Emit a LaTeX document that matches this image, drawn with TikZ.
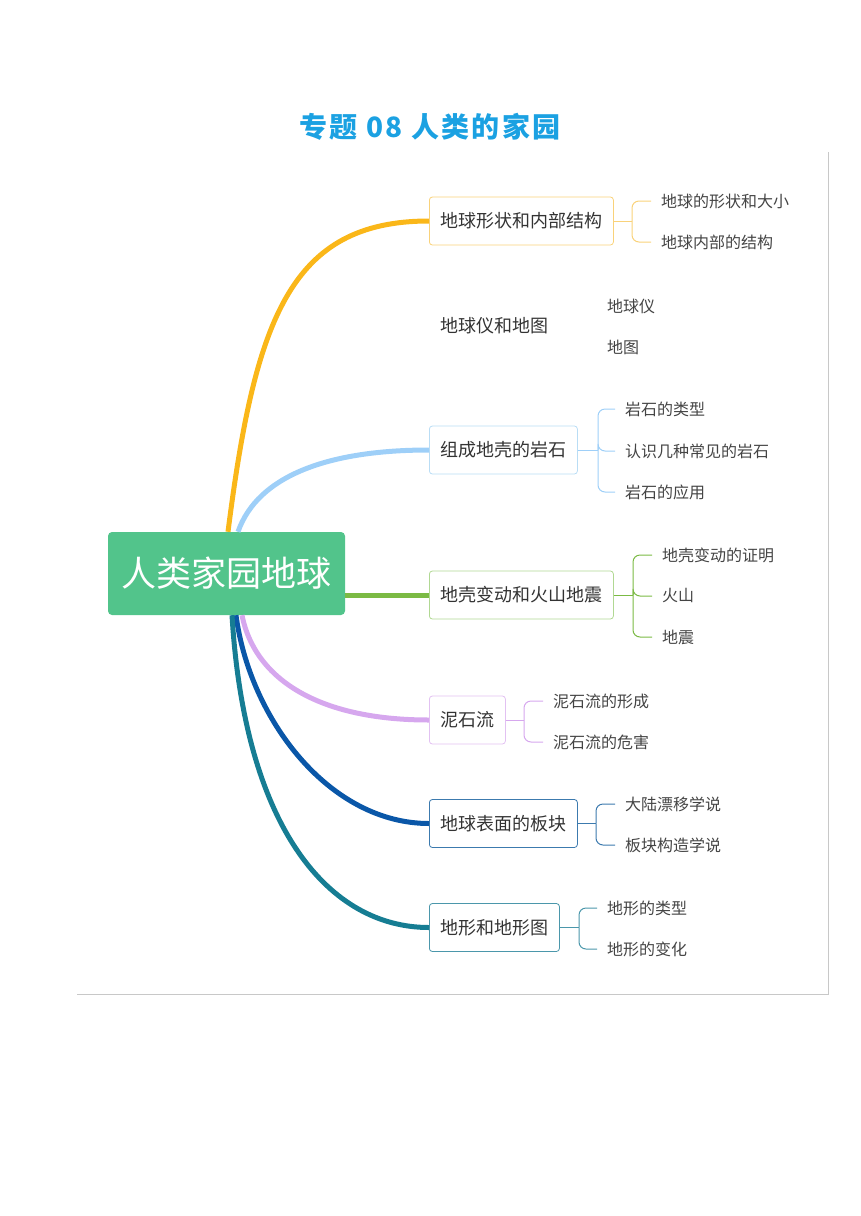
\documentclass[tikz,border=0pt]{standalone}
\usepackage{fontspec}
\setmainfont{Noto Sans CJK SC}
\newfontfamily\titlefont[LetterSpace=8]{Noto Sans CJK SC}
\definecolor{titleblue}{HTML}{1BA1E2}
\definecolor{rootgreen}{HTML}{52C48B}
\definecolor{framegray}{HTML}{C8C8C8}
\definecolor{textgray}{HTML}{333333}
\definecolor{leafgray}{HTML}{444444}
\definecolor{yelline}{HTML}{FAB719}
\definecolor{yelbox}{HTML}{F9D27A}
\definecolor{skyline}{HTML}{9ECFF8}
\definecolor{skybox}{HTML}{B9DDF5}
\definecolor{grnline}{HTML}{7BBA44}
\definecolor{grnbox}{HTML}{B1D893}
\definecolor{purline}{HTML}{D6A7EE}
\definecolor{purbox}{HTML}{E2C1F2}
\definecolor{navline}{HTML}{0A57A8}
\definecolor{navbox}{HTML}{3C7AAE}
\definecolor{tealline}{HTML}{167D93}
\definecolor{tealbox}{HTML}{4B97AB}
\tikzset{
  rootbox/.style={fill=rootgreen, rounded corners=4pt, text=white, minimum width=237pt,
    minimum height=83pt, inner sep=0pt, font=\fontsize{35pt}{38pt}\selectfont},
  branch/.style={rounded corners=3pt, minimum height=48pt, inner xsep=11pt, anchor=west,
    text=textgray, line width=0.8pt, font=\fontsize{18pt}{20pt}\selectfont},
  leaf/.style={anchor=west, inner xsep=10pt, text=leafgray, font=\fontsize{16pt}{18pt}\selectfont},
  limb/.style={line width=5pt, #1},
  brace/.style={line width=1pt, rounded corners=7pt, #1}
}
\begin{document}
\begin{tikzpicture}[x=1pt, y=-1pt]
  \useasboundingbox (0,0) rectangle (860,1216);
  \node[text=titleblue, font=\titlefont\bfseries\fontsize{28pt}{30pt}\selectfont] (title) at (430,127) {专题 08 人类的家园};
  \draw[framegray, line width=1pt] (77,994) -- (828,994) -- (828,152);
  % root and branches
  \node[rootbox] (root) at (226.5,573.5) {人类家园地球};
  \node[branch, draw=yelbox] (shape) at (429,221) {地球形状和内部结构};
  \node[branch] (globe) at (429,326) {地球仪和地图};
  \node[branch, draw=skybox] (rock) at (429,450) {组成地壳的岩石};
  \node[branch, draw=grnbox] (crust) at (429,595) {地壳变动和火山地震};
  \node[branch, draw=purbox] (flow) at (429,720) {泥石流};
  \node[branch, draw=navbox] (plate) at (429,823.5) {地球表面的板块};
  \node[branch, draw=tealbox] (land) at (429,927.5) {地形和地形图};
  % leaves
  \node[leaf] (shape1) at (651,201) {地球的形状和大小};
  \node[leaf] (shape2) at (651,242) {地球内部的结构};
  \node[leaf] (globe1) at (597,306) {地球仪};
  \node[leaf] (globe2) at (597,347) {地图};
  \node[leaf] (rock1) at (615,409) {岩石的类型};
  \node[leaf] (rock2) at (615,451) {认识几种常见的岩石};
  \node[leaf] (rock3) at (615,492) {岩石的应用};
  \node[leaf] (crust1) at (652,555) {地壳变动的证明};
  \node[leaf] (crust2) at (652,596) {火山};
  \node[leaf] (crust3) at (652,637) {地震};
  \node[leaf] (flow1) at (543,701) {泥石流的形成};
  \node[leaf] (flow2) at (543,742) {泥石流的危害};
  \node[leaf] (plate1) at (615,804) {大陆漂移学说};
  \node[leaf] (plate2) at (615,845) {板块构造学说};
  \node[leaf] (land1) at (597,908) {地形的类型};
  \node[leaf] (land2) at (597,949) {地形的变化};
  % thick limbs
  \draw[limb=yelline] ([xshift=1.5pt]root.north) .. controls +(27,-212) and +(-139,0) .. (shape.west);
  \draw[limb=skyline] ([xshift=11.5pt]root.north) .. controls +(20,-57) and +(-99,0) .. (rock.west);
  \draw[limb=grnline] (root.east |- crust.west) -- (crust.west);
  \draw[limb=purline] ([xshift=15.5pt]root.south) .. controls +(13,65) and +(-109,0) .. (flow.west);
  \draw[limb=navline] ([xshift=9.5pt]root.south) .. controls +(14,105) and +(-99,0) .. (plate.west);
  \draw[limb=tealline] ([xshift=5.5pt]root.south) .. controls +(13,215) and +(-99,0) .. (land.west);
  % braces
  \coordinate (shapehub) at (632,221);
  \coordinate (rockhub) at (598,450);
  \coordinate (crusthub) at (633,595);
  \coordinate (flowhub) at (524,720);
  \coordinate (platehub) at (596,823.5);
  \coordinate (landhub) at (579,927.5);
  \draw[brace=yelbox] (shape.east) -- (shapehub);
  \foreach \k in {1,2} \draw[brace=yelbox] (shapehub) |- (shape\k.west);
  \draw[brace=skyline] (rock.east) -- (rockhub);
  \foreach \k in {1,2,3} \draw[brace=skyline] (rockhub) |- (rock\k.west);
  \draw[brace=grnline] (crust.east) -- (crusthub);
  \foreach \k in {1,2,3} \draw[brace=grnline] (crusthub) |- (crust\k.west);
  \draw[brace=purline] (flow.east) -- (flowhub);
  \foreach \k in {1,2} \draw[brace=purline] (flowhub) |- (flow\k.west);
  \draw[brace=navbox] (plate.east) -- (platehub);
  \foreach \k in {1,2} \draw[brace=navbox] (platehub) |- (plate\k.west);
  \draw[brace=tealbox] (land.east) -- (landhub);
  \foreach \k in {1,2} \draw[brace=tealbox] (landhub) |- (land\k.west);
\end{tikzpicture}
\end{document}
